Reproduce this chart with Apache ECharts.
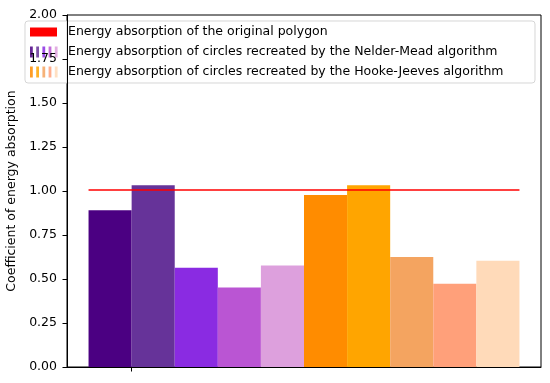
<!DOCTYPE html>
<html>
<head>
<meta charset="utf-8">
<script src="https://cdn.jsdelivr.net/npm/echarts@6/dist/echarts.min.js"></script>
<style>html,body{margin:0;padding:0;background:#fff}#c{width:550px;height:383px}</style>
</head>
<body>
<div id="c"></div>
<script>
// ---- data ----
const barLabels = ['NM 1','NM 2','NM 3','NM 4','NM 5','HJ 1','HJ 2','HJ 3','HJ 4','HJ 5'];
const nelderMeadValues = [0.890, 1.032, 0.564, 0.451, 0.576];
const hookeJeevesValues = [0.977, 1.032, 0.625, 0.473, 0.604];
const originalPolygonValue = 1.005;
const yTicks = [0, 0.25, 0.5, 0.75, 1.0, 1.25, 1.5, 1.75, 2.0];
const legendTexts = [
  'Energy absorption of the original polygon',
  'Energy absorption of circles recreated by the Nelder-Mead algorithm',
  'Energy absorption of circles recreated by the Hooke-Jeeves algorithm'
];
const nmColors = ['#4b0082', '#663399', '#8a2be2', '#ba55d3', '#dda0dd'];
const hjColors = ['#ff8c00', '#ffa500', '#f4a460', '#ffa07a', '#ffdab9'];

const FONT = 'DejaVu Sans';
const FS = 12.5;

const allValues = nelderMeadValues.concat(hookeJeevesValues);
const allColors = nmColors.concat(hjColors);
const barData = allValues.map((v, i) => ({ value: [i, v], itemStyle: { color: allColors[i] }, name: barLabels[i] }));

function renderBar(params, api) {
  const x = api.value(0), v = api.value(1);
  const p0 = api.coord([x - 0.5, v]);
  const p1 = api.coord([x + 0.5, 0]);
  return {
    type: 'rect',
    shape: { x: p0[0], y: p0[1], width: p1[0] - p0[0], height: p1[1] - p0[1] },
    style: { fill: api.visual('color') }
  };
}

// legend built from graphics
const lgLeft = 25, lgTop = 21, lgW = 510, lgH = 62, rowY = [32, 52, 72];
const legendChildren = [
  { type: 'rect', shape: { x: lgLeft, y: lgTop, width: lgW, height: lgH, r: 3 },
    style: { fill: 'rgba(255,255,255,0.8)', stroke: 'rgba(204,204,204,0.8)', lineWidth: 1 } },
  { type: 'rect', shape: { x: 30, y: rowY[0] - 4.5, width: 27, height: 9 }, style: { fill: '#ff0000' } }
];
[nmColors, hjColors].forEach((cols, r) => {
  cols.forEach((c, k) => {
    legendChildren.push({ type: 'rect', shape: { x: 30 + k * 6.2, y: rowY[r + 1] - 5.5, width: 2.8, height: 11 },
      style: { fill: c, opacity: 0.85 } });
  });
});
legendTexts.forEach((t, r) => {
  legendChildren.push({ type: 'text', x: 68, y: rowY[r],
    style: { text: t, fill: '#000', font: FS + 'px "' + FONT + '"', verticalAlign: 'middle', align: 'left' } });
});

const chart = echarts.init(document.getElementById('c'), null, { renderer: 'canvas' });
chart.setOption({
  animation: false,
  backgroundColor: '#fff',
  grid: { left: 67, right: 9, top: 15, bottom: 16, show: true, borderColor: '#000', borderWidth: 1,
    backgroundColor: 'transparent', containLabel: false, outerBoundsMode: 'none' },
  xAxis: {
    type: 'value', min: -1, max: 10,
    splitLine: { show: false },
    axisLine: { show: true, onZero: false, lineStyle: { color: '#000', width: 1 } },
    axisTick: { show: true, customValues: [0.5], length: 4.5, lineStyle: { color: '#000' } },
    axisLabel: { show: false }
  },
  yAxis: {
    type: 'value', min: 0, max: 2, interval: 0.25,
    name: 'Coefficient of energy absorption',
    nameLocation: 'middle', nameGap: 48.5, nameRotate: 90,
    nameTextStyle: { fontFamily: FONT, fontSize: FS, color: '#000' },
    splitLine: { show: false },
    axisLine: { show: true, onZero: false, lineStyle: { color: '#000', width: 1 } },
    axisTick: { show: true, length: 4.5, lineStyle: { color: '#000' }, customValues: yTicks },
    axisLabel: { fontFamily: FONT, fontSize: FS, color: '#000', margin: 10, customValues: yTicks,
      formatter: v => v.toFixed(2) }
  },
  series: [
    { type: 'custom', renderItem: renderBar, data: barData, z: 2,
      encode: { x: 0, y: 1 } },
    { type: 'line', data: [[-0.5, originalPolygonValue], [allValues.length - 0.5, originalPolygonValue]],
      symbol: 'none', lineStyle: { color: '#ff0000', width: 1.5 }, z: 3 }
  ],
  graphic: [{ type: 'group', z: 100, children: legendChildren }]
});
</script>
</body>
</html>
